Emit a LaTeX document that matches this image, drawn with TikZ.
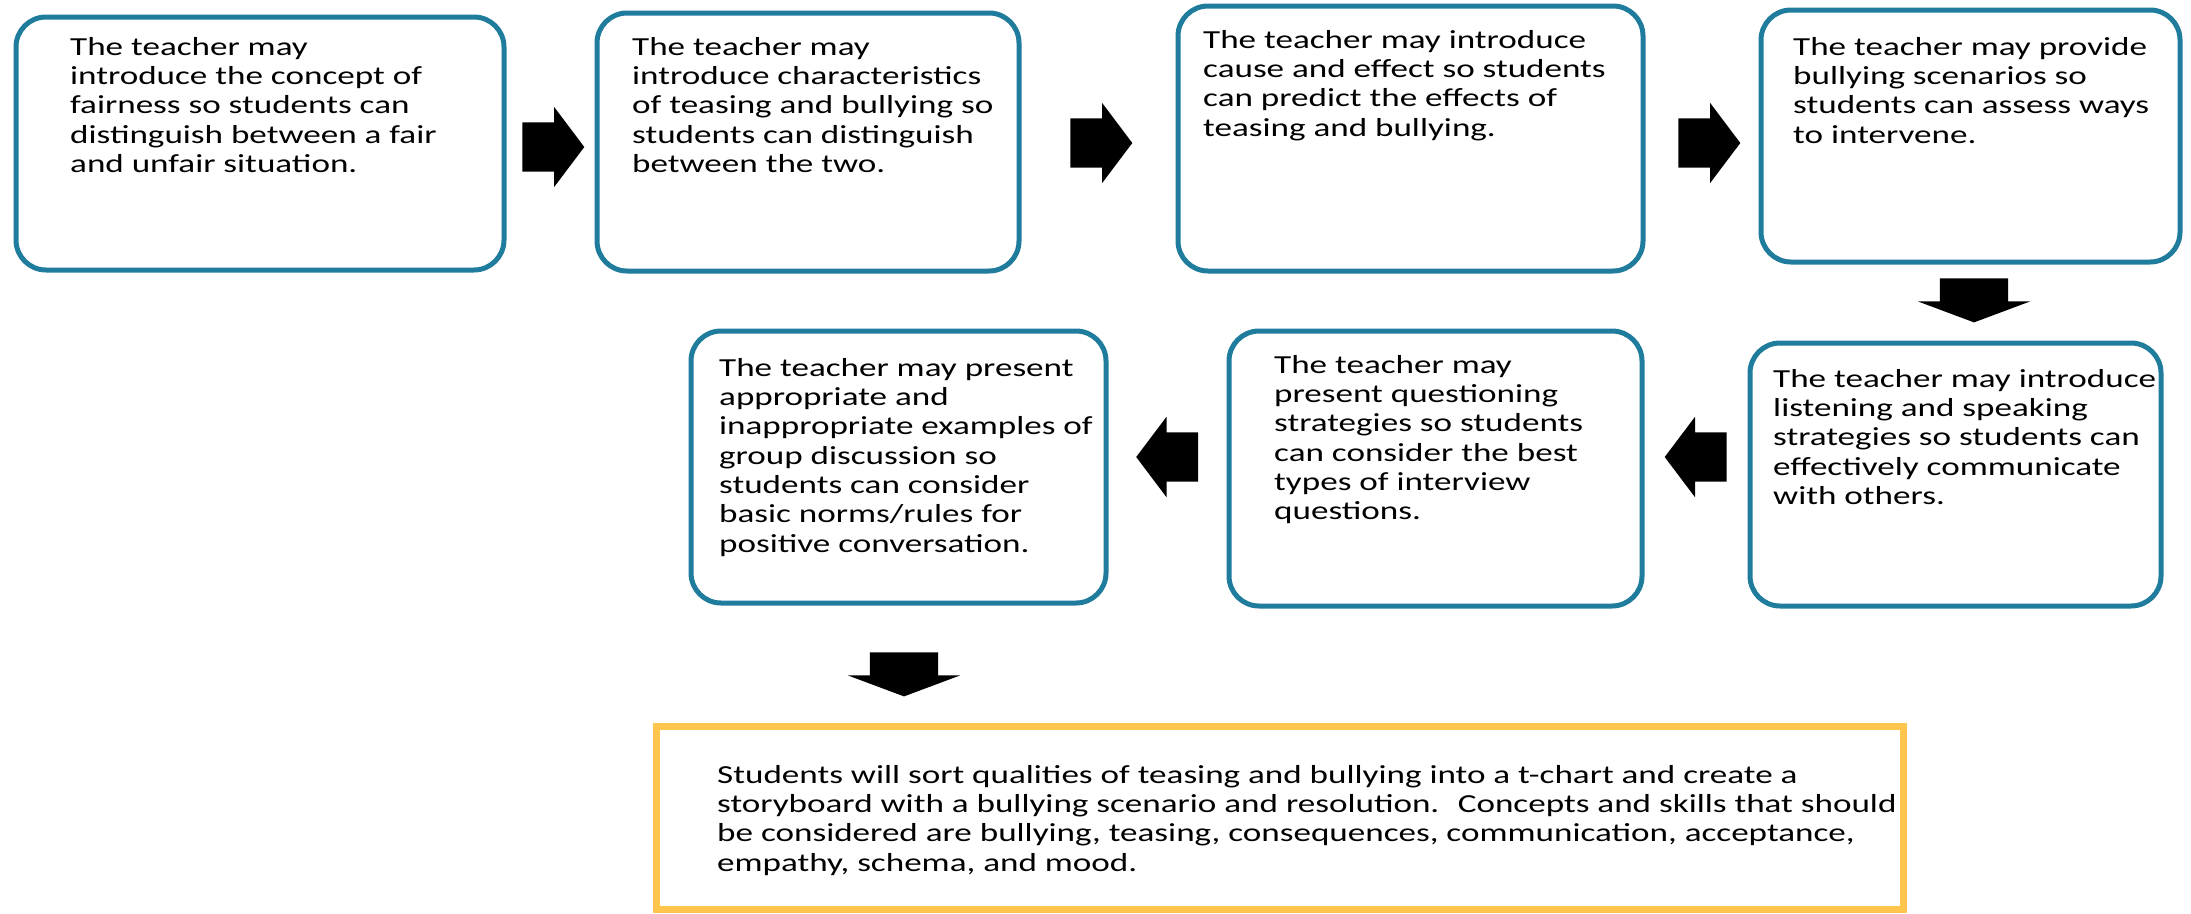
\documentclass[tikz,border=0pt]{standalone}
\usepackage{fontspec}
\usepackage{xcolor}
\usetikzlibrary{shapes.arrows,positioning}
\newfontfamily\stagefont{Carlito}[FakeStretch=1.35]
\definecolor{stageblue}{RGB}{31,124,157}
\definecolor{goalyellow}{RGB}{255,197,77}
\tikzset{%
	stage/.style    = {draw=stageblue, line width=5pt, rounded corners=30pt, inner sep=0pt},
	goal/.style     = {draw=goalyellow, line width=7pt, inner sep=0pt},
	txt/.style      = {anchor=north west, align=left, inner sep=0pt, font={\stagefont\fontsize{26pt}{29.3pt}\selectfont}},
	fatright/.style = {single arrow, fill=black, inner xsep=0pt, inner ysep=24.5pt, minimum height=62pt, single arrow head extend=15.5pt, single arrow tip angle=106},
	fatleft/.style  = {fatright, rotate=180},
	fatdown/.style  = {single arrow, fill=black, inner xsep=0pt, inner ysep=34pt, minimum height=44pt, single arrow head extend=22pt, single arrow tip angle=139, rotate=-90},
}
\begin{document}
\begin{tikzpicture}[x=1pt,y=-1pt]
		\useasboundingbox (0,0) rectangle (2191,913);
		
		\node[stage, minimum width=488pt, minimum height=253pt] (b1) at (260,143.5) {};
		\node[stage, minimum width=422pt, minimum height=258pt] (b2) at (808,142) {};
		\node[stage, minimum width=465pt, minimum height=265pt] (b3) at (1410.5,138.5) {};
		\node[stage, minimum width=419pt, minimum height=252pt] (b4) at (1970.5,136) {};
		\node[stage, minimum width=411pt, minimum height=263pt] (b5) at (1955.5,474.5) {};
		\node[stage, minimum width=413pt, minimum height=275pt] (b6) at (1435.5,468.5) {};
		\node[stage, minimum width=415pt, minimum height=272pt] (b7) at (898.5,467) {};
		\node[goal, minimum width=1247pt, minimum height=183pt] (g) at (1279.5,817.5) {};
		
		\node[txt] (t1) at (70,37) {The teacher may\\introduce the concept of\\fairness so students can\\distinguish between a fair\\and unfair situation.};
		\node[txt] (t2) at (632,37) {The teacher may\\introduce characteristics\\of teasing and bullying so\\students can distinguish\\between the two.};
		\node[txt] (t3) at (1203,30) {The teacher may introduce\\cause and effect so students\\can predict the effects of\\teasing and bullying.};
		\node[txt] (t4) at (1793,37) {The teacher may provide\\bullying scenarios so\\students can assess ways\\to intervene.};
		\node[txt] (t5) at (1773,369) {The teacher may introduce\\listening and speaking\\strategies so students can\\effectively communicate\\with others.};
		\node[txt] (t6) at (1274,355) {The teacher may\\present questioning\\strategies so students\\can consider the best\\types of interview\\questions.};
		\node[txt] (t7) at (719,358) {The teacher may present\\appropriate and\\inappropriate examples of\\group discussion so\\students can consider\\basic norms/rules for\\positive conversation.};
		\node[txt] (tg) at (717,765) {Students will sort qualities of teasing and bullying into a t-chart and create a\\storyboard with a bullying scenario and resolution.~ Concepts and skills that should\\be considered are bullying, teasing, consequences, communication, acceptance,\\empathy, schema, and mood.};
		
		\node[fatright] (a1) at (544,147) {};
		\node[fatright] (a2) at (1092,143) {};
		\node[fatright] (a3) at (1700,143) {};
		\node[fatdown] (a4) at (1974,294) {};
		\node[fatleft] (a5) at (1705,457) {};
		\node[fatleft] (a6) at (1176.5,457) {};
		\node[fatdown] (a7) at (904,668) {};
\end{tikzpicture}
\end{document}
